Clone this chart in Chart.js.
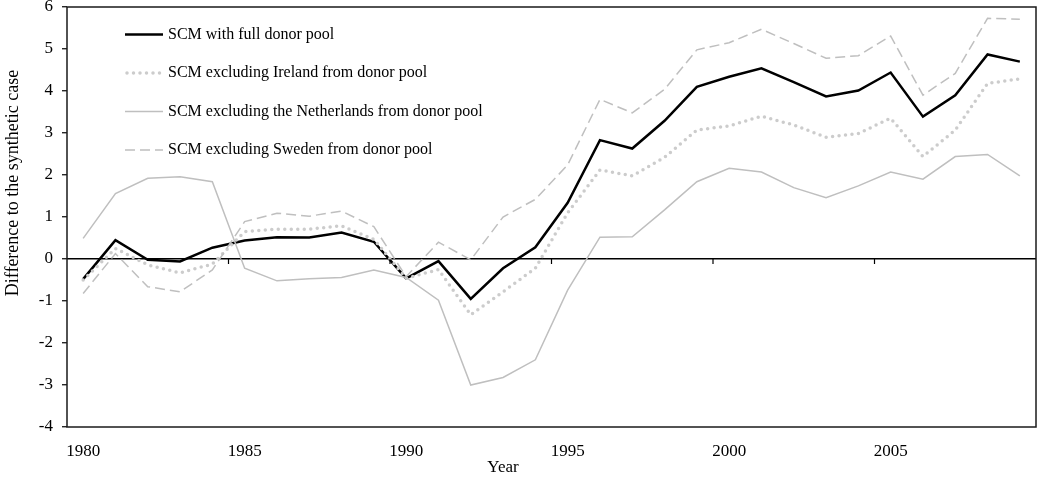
<!DOCTYPE html>
<html>
<head>
<meta charset="utf-8">
<script src="https://cdn.jsdelivr.net/npm/chart.js@4.4.1/dist/chart.umd.min.js"></script>
<style>
  html, body { margin: 0; padding: 0; background: #fff; }
  #wrap { width: 1038px; height: 477px; }
</style>
</head>
<body>
<div id="wrap"><canvas id="myChart" width="1038" height="477"></canvas></div>
<script>
    var years = ['1980', '1981', '1982', '1983', '1984', '1985', '1986', '1987', '1988', '1989',
                 '1990', '1991', '1992', '1993', '1994', '1995', '1996', '1997', '1998', '1999',
                 '2000', '2001', '2002', '2003', '2004', '2005', '2006', '2007', '2008', '2009'];

    var fullPool = [-0.48, 0.45, -0.02, -0.06, 0.27, 0.44, 0.52, 0.51, 0.63, 0.41,
                    -0.46, -0.05, -0.95, -0.22, 0.28, 1.34, 2.83, 2.63, 3.29, 4.10,
                    4.34, 4.54, 4.21, 3.87, 4.01, 4.44, 3.39, 3.90, 4.87, 4.70];

    var exIreland = [-0.50, 0.25, -0.14, -0.33, -0.12, 0.65, 0.71, 0.71, 0.79, 0.47,
                     -0.46, -0.25, -1.33, -0.78, -0.22, 1.10, 2.12, 1.98, 2.42, 3.07,
                     3.17, 3.40, 3.19, 2.90, 2.99, 3.35, 2.44, 3.07, 4.18, 4.29];

    var exNetherlands = [0.49, 1.56, 1.92, 1.96, 1.84, -0.22, -0.52, -0.47, -0.44, -0.26,
                         -0.44, -0.98, -3.00, -2.82, -2.40, -0.74, 0.52, 0.53, 1.17, 1.84,
                         2.16, 2.07, 1.70, 1.46, 1.74, 2.07, 1.90, 2.44, 2.49, 1.98];

    var exSweden = [-0.82, 0.13, -0.66, -0.78, -0.26, 0.89, 1.09, 1.02, 1.14, 0.77,
                    -0.42, 0.40, -0.02, 1.00, 1.42, 2.24, 3.80, 3.48, 4.04, 4.98,
                    5.15, 5.47, 5.13, 4.78, 4.84, 5.31, 3.90, 4.42, 5.73, 5.71];

    var seriesNames = [
        'SCM with full donor pool',
        'SCM excluding Ireland from donor pool',
        'SCM excluding the Netherlands from donor pool',
        'SCM excluding Sweden from donor pool'
    ];

    var yTitle = 'Difference to the synthetic case';
    var xTitle = 'Year';
    var serif = "'Liberation Serif', 'Times New Roman', serif";

    // frame, zero-line ticks, legend and axis titles
    var extras = {
        id: 'extras',
        afterDatasetsDraw: function (chart) {
            var ctx = chart.ctx;
            var area = chart.chartArea;
            var xs = chart.scales.x;
            var ys = chart.scales.y;
            var zero = ys.getPixelForValue(0);

            ctx.save();
            // tick marks on the zero line, every 5 years
            ctx.strokeStyle = '#000';
            ctx.lineWidth = 1.2;
            for (var i = 5; i < years.length; i += 5) {
                var bx = (xs.getPixelForValue(i - 1) + xs.getPixelForValue(i)) / 2;
                ctx.beginPath();
                ctx.moveTo(bx, zero);
                ctx.lineTo(bx, zero + 5);
                ctx.stroke();
            }

            // plot frame
            ctx.strokeStyle = '#1a1a1a';
            ctx.lineWidth = 1.5;
            ctx.strokeRect(area.left, area.top, area.right - area.left, area.bottom - area.top);

            // legend inside the plot
            ctx.font = '16px ' + serif;
            ctx.textBaseline = 'middle';
            ctx.textAlign = 'left';
            chart.data.datasets.forEach(function (ds, k) {
                var ly = area.top + 27.5 + k * 38.5;
                var lx = area.left + 58;
                ctx.save();
                ctx.strokeStyle = ds.borderColor;
                ctx.lineWidth = ds.borderWidth;
                ctx.lineCap = ds.borderCapStyle || 'butt';
                ctx.setLineDash(ds.borderDash || []);
                ctx.beginPath();
                ctx.moveTo(lx + (ds.borderCapStyle === 'round' ? 2 : 0), ly);
                ctx.lineTo(lx + 38, ly);
                ctx.stroke();
                ctx.restore();
                ctx.fillStyle = '#000';
                ctx.fillText(ds.label, lx + 43, ly);
            });

            // axis titles
            ctx.fillStyle = '#000';
            ctx.textAlign = 'center';
            ctx.font = '17px ' + serif;
            ctx.fillText(xTitle, 503, 468);
            ctx.font = '18px ' + serif;
            ctx.translate(13, 183);
            ctx.rotate(-Math.PI / 2);
            ctx.fillText(yTitle, 0, 0);
            ctx.restore();
        }
    };

    var ctx = document.getElementById('myChart');
    new Chart(ctx, {
        type: 'line',
        data: {
            labels: years,
            datasets: [{
                label: seriesNames[0],
                data: fullPool,
                borderColor: '#000000',
                borderWidth: 2.5,
                order: 4
            }, {
                label: seriesNames[1],
                data: exIreland,
                borderColor: '#cccccc',
                borderWidth: 3.5,
                borderDash: [0, 6.5],
                borderCapStyle: 'round',
                order: 3
            }, {
                label: seriesNames[2],
                data: exNetherlands,
                borderColor: '#bfbfbf',
                borderWidth: 1.5,
                order: 2
            }, {
                label: seriesNames[3],
                data: exSweden,
                borderColor: '#bfbfbf',
                borderWidth: 1.5,
                borderDash: [10, 5],
                order: 1
            }]
        },
        options: {
            responsive: false,
            animation: false,
            layout: {
                padding: { left: 0, top: 7, right: 2, bottom: 0 }
            },
            elements: {
                point: { radius: 0, hoverRadius: 0 },
                line: { tension: 0, fill: false }
            },
            plugins: {
                legend: { display: false },
                tooltip: { enabled: false }
            },
            scales: {
                x: {
                    type: 'category',
                    offset: true,
                    grid: { display: false, offset: true },
                    border: { display: false },
                    ticks: {
                        autoSkip: false,
                        maxRotation: 0,
                        minRotation: 0,
                        padding: 6,
                        color: '#000',
                        font: { family: serif, size: 17 },
                        callback: function (v, i) { return i % 5 === 0 ? years[i] : ''; }
                    },
                    afterFit: function (scale) {
                        scale.height = 50;
                        scale.paddingLeft = 0;
                        scale.paddingRight = 0;
                    }
                },
                y: {
                    min: -4,
                    max: 6,
                    border: { display: false },
                    grid: {
                        color: function (c) { return c.tick && c.tick.value === 0 ? '#000' : 'rgba(0,0,0,0)'; },
                        lineWidth: 1.5,
                        drawTicks: true,
                        tickLength: 5,
                        tickColor: '#000',
                        tickWidth: 1.2
                    },
                    ticks: {
                        stepSize: 1,
                        padding: 9,
                        color: '#000',
                        font: { family: serif, size: 17 }
                    },
                    afterFit: function (scale) {
                        scale.width = 67;
                        scale.paddingTop = 0;
                        scale.paddingBottom = 0;
                    }
                }
            }
        },
        plugins: [extras]
    });
</script>
</body>
</html>
